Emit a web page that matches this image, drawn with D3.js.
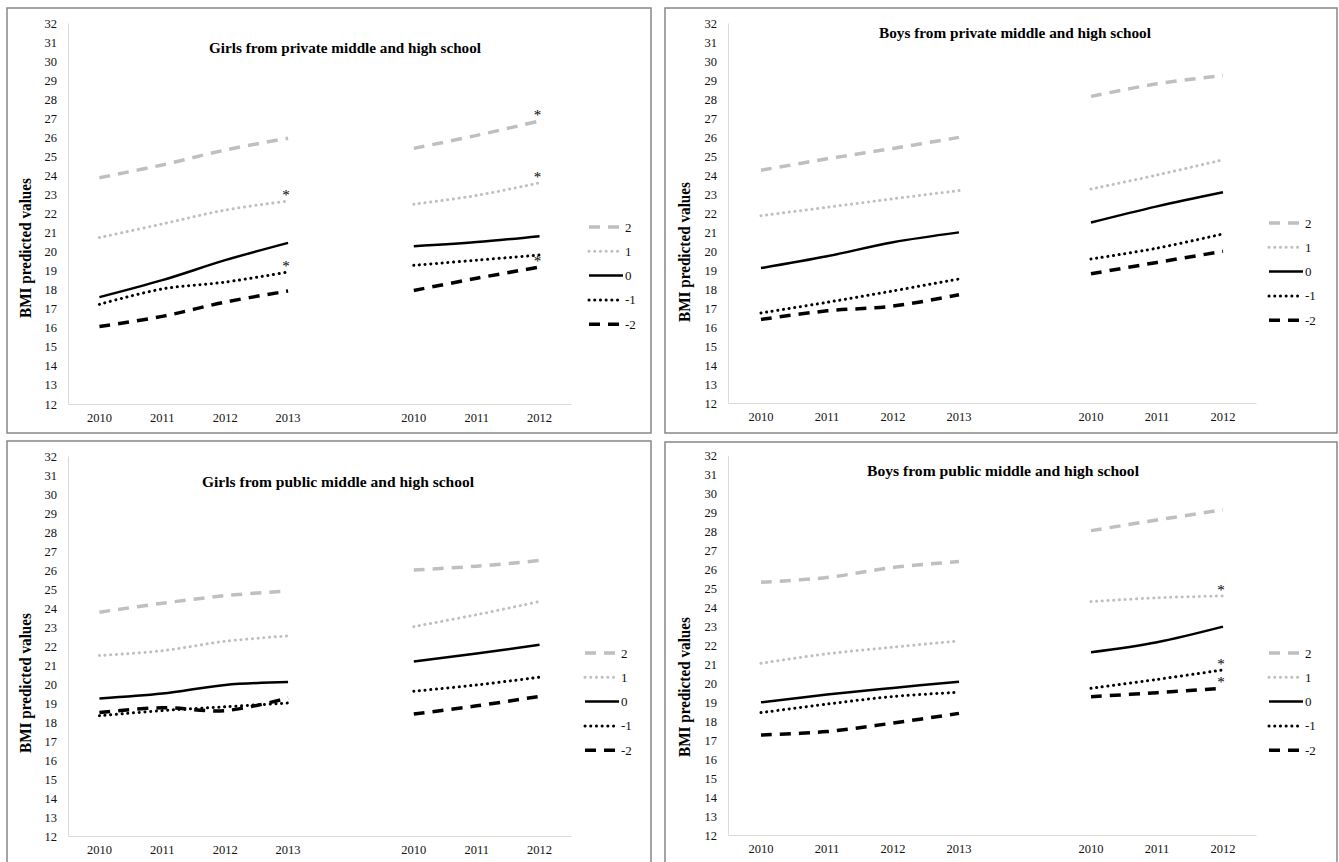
<!DOCTYPE html>
<html>
<head>
<meta charset="utf-8">
<script src="https://cdn.jsdelivr.net/npm/d3@7/dist/d3.min.js"></script>
<style>
  body, html { margin: 0; padding: 0; background: #fff; overflow: hidden; }
  svg { display: block; }
  svg text { font-family: "Liberation Serif", "Times New Roman", serif; }
</style>
</head>
<body>
<svg id="chart" width="1339" height="862"></svg>
<script>
// category slots on the x axis, index 4 is the empty gap between the two cohorts
var years = ["2010", "2011", "2012", "2013", "", "2010", "2011", "2012"];
var seriesKeys = ["2", "1", "0", "-1", "-2"];
var yTicks = d3.range(12, 33);

// one row per series, in the order of seriesKeys
var girlsPrivate = [
  [23.88, 24.55, 25.33, 25.95, null, 25.42, 26.1, 26.86],
  [20.74, 21.45, 22.18, 22.65, null, 22.49, 22.95, 23.61],
  [17.61, 18.5, 19.55, 20.46, null, 20.28, 20.5, 20.81],
  [17.23, 18.04, 18.4, 18.93, null, 19.28, 19.55, 19.82],
  [16.07, 16.6, 17.35, 17.93, null, 17.96, 18.6, 19.19]
];
var boysPrivate = [
  [24.25, 24.85, 25.4, 25.98, null, 28.14, 28.8, 29.23],
  [21.86, 22.3, 22.75, 23.18, null, 23.26, 24.0, 24.8],
  [19.1, 19.72, 20.46, 20.98, null, 21.5, 22.35, 23.09],
  [16.74, 17.3, 17.9, 18.53, null, 19.58, 20.15, 20.9],
  [16.4, 16.85, 17.1, 17.7, null, 18.8, 19.4, 19.98]
];
var girlsPublic = [
  [23.78, 24.25, 24.65, 24.9, null, 26.0, 26.2, 26.5],
  [21.5, 21.75, 22.25, 22.53, null, 23.02, 23.65, 24.34],
  [19.24, 19.5, 19.95, 20.1, null, 21.19, 21.6, 22.06],
  [18.33, 18.6, 18.8, 19.0, null, 19.62, 19.95, 20.36],
  [18.5, 18.75, 18.6, 19.26, null, 18.42, 18.85, 19.35]
];
var boysPublic = [
  [25.32, 25.57, 26.1, 26.41, null, 28.04, 28.6, 29.14],
  [21.05, 21.55, 21.9, 22.23, null, 24.3, 24.5, 24.6],
  [18.99, 19.4, 19.75, 20.08, null, 21.63, 22.16, 22.98],
  [18.45, 18.9, 19.3, 19.52, null, 19.73, 20.2, 20.7],
  [17.27, 17.45, 17.9, 18.41, null, 19.29, 19.5, 19.73]
];

// significance marks: [series index, category index]
var girlsPrivateStars = [[1, 3], [3, 3], [0, 7], [1, 7], [4, 7]];
var boysPrivateStars = [];
var girlsPublicStars = [];
var boysPublicStars = [[1, 7], [3, 7], [4, 7]];

var styles = [
  {color: "#bfbfbf", width: 3.5, dash: "11,8", cap: "butt"},
  {color: "#bfbfbf", width: 3, dash: "0.1,5.6", cap: "round"},
  {color: "#000", width: 2.5, dash: null, cap: "butt"},
  {color: "#000", width: 3, dash: "0.1,5.6", cap: "round"},
  {color: "#000", width: 3.5, dash: "11,8", cap: "butt"}
];

var panels = [
  {title: "Girls from private middle and high school", data: girlsPrivate, stars: girlsPrivateStars,
   box: [7, 8, 651, 433], x0: 68, x1: 571, yTop: 23, yBot: 404,
   titleX: 345, titleY: 53, labX: 26, labY: 248, legX: 589, legY: 227},
  {title: "Boys from private middle and high school", data: boysPrivate, stars: boysPrivateStars,
   box: [665, 8, 1337, 433], x0: 728, x1: 1256, yTop: 23, yBot: 403,
   titleX: 1015, titleY: 38, labX: 685, labY: 252, legX: 1269, legY: 223},
  {title: "Girls from public middle and high school", data: girlsPublic, stars: girlsPublicStars,
   box: [7, 441, 651, 875], x0: 68, x1: 571, yTop: 456, yBot: 836,
   titleX: 338, titleY: 487, labX: 26, labY: 683, legX: 585, legY: 653},
  {title: "Boys from public middle and high school", data: boysPublic, stars: boysPublicStars,
   box: [665, 442, 1337, 875], x0: 728, x1: 1256, yTop: 455.5, yBot: 835,
   titleX: 1003, titleY: 476, labX: 685, labY: 687, legX: 1269, legY: 653}
];

var svg = d3.select("#chart");
var serif = "'Liberation Serif', 'Times New Roman', serif";

panels.forEach(function(p) {
  var g = svg.append("g");

  g.append("rect")
    .attr("x", p.box[0]).attr("y", p.box[1])
    .attr("width", p.box[2] - p.box[0]).attr("height", p.box[3] - p.box[1])
    .attr("fill", "none").attr("stroke", "#878787").attr("stroke-width", 1.5);

  var x = d3.scaleBand().domain(d3.range(years.length)).range([p.x0, p.x1]);
  var y = d3.scaleLinear().domain([12, 32]).range([p.yBot, p.yTop]);

  // y axis
  var ya = g.append("g").attr("transform", "translate(" + p.x0 + ",0)")
    .call(d3.axisLeft(y).tickValues(yTicks).tickSize(0).tickPadding(11));
  ya.attr("font-family", null);
  ya.select(".domain").attr("stroke", "#d9d9d9");
  ya.selectAll("text").style("font-family", serif).attr("font-size", 12.5).attr("fill", "#111");

  // x axis
  var xa = g.append("g").attr("transform", "translate(0," + p.yBot + ")")
    .call(d3.axisBottom(x).tickSize(0).tickPadding(9).tickFormat(function(i) { return years[i]; }));
  xa.attr("font-family", null);
  xa.select(".domain").attr("stroke", "#d9d9d9");
  xa.selectAll("text").style("font-family", serif).attr("font-size", 12.5).attr("fill", "#111");

  var cx = function(i) { return x(i) + x.bandwidth() / 2; };

  var line = d3.line()
    .defined(function(v) { return v != null; })
    .x(function(v, i) { return cx(i); })
    .y(function(v) { return y(v); })
    .curve(d3.curveCatmullRom);

  p.data.forEach(function(vals, s) {
    var st = styles[s];
    g.append("path")
      .attr("d", line(vals))
      .attr("fill", "none")
      .attr("stroke", st.color)
      .attr("stroke-width", st.width)
      .attr("stroke-linecap", st.cap)
      .attr("stroke-dasharray", st.dash);
  });

  p.stars.forEach(function(m) {
    var v = p.data[m[0]][m[1]];
    g.append("text")
      .attr("x", cx(m[1]) - 2)
      .attr("y", y(v) - 1)
      .attr("text-anchor", "middle")
      .attr("font-size", 15)
      .attr("fill", "#000")
      .text("*");
  });

  g.append("text")
    .attr("x", p.titleX).attr("y", p.titleY)
    .attr("text-anchor", "middle")
    .attr("font-weight", "bold").attr("font-size", 15.5)
    .attr("textLength", 272).attr("lengthAdjust", "spacingAndGlyphs")
    .text(p.title);

  g.append("text")
    .attr("transform", "translate(" + (p.labX + 5) + "," + p.labY + ") rotate(-90)")
    .attr("text-anchor", "middle")
    .attr("font-weight", "bold").attr("font-size", 16)
    .attr("textLength", 140).attr("lengthAdjust", "spacingAndGlyphs")
    .text("BMI predicted values");

  // legend
  seriesKeys.forEach(function(k, s) {
    var st = styles[s];
    var ly = p.legY + s * 24.3;
    g.append("line")
      .attr("x1", p.legX).attr("x2", p.legX + 34)
      .attr("y1", ly).attr("y2", ly)
      .attr("stroke", st.color)
      .attr("stroke-width", st.width)
      .attr("stroke-linecap", st.cap)
      .attr("stroke-dasharray", st.dash);
    g.append("text")
      .attr("x", p.legX + 36).attr("y", ly + 4.5)
      .attr("font-size", 13).attr("fill", "#111")
      .text(k);
  });
});
</script>
</body>
</html>
